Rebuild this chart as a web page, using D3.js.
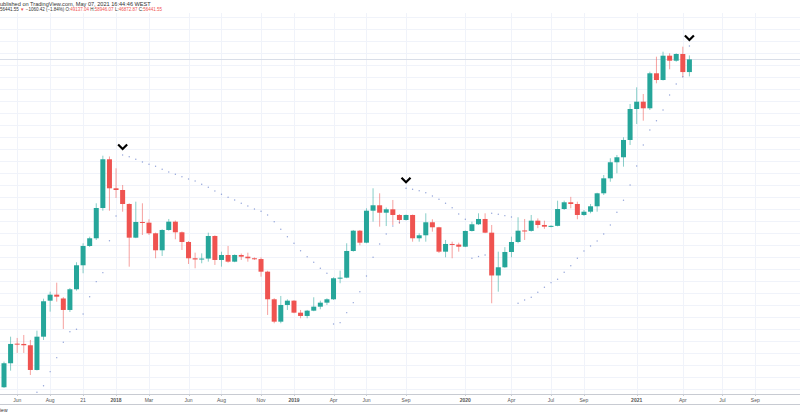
<!DOCTYPE html>
<html><head><meta charset="utf-8">
<script src="https://cdn.jsdelivr.net/npm/d3@7"></script>
<style>html,body{margin:0;padding:0;background:#fff;overflow:hidden}</style>
</head><body><svg id="c" width="800" height="417"></svg>
<script>
const opens  = [1568,2038,2525,2517,2481,1894,2725,4039,4313,4137,3649,4575,5947,7343,7988,11120,18944,13794,13540,11620,8041,9546,9473,8436,7006,8746,9577,8529,7671,6420,6336,6400,8191,6302,6655,6186,6655,6533,6420,6365,5545,4101,3211,3854,4039,3543,3418,3621,3783,3952,4101,5160,5194,6953,8679,7613,10797,11457,10564,10964,10305,9757,10305,7988,8254,9515,9008,6900,7506,7455,7287,8651,9309,9864,8492,5320,5818,6877,7671,8700,8660,9683,9238,9067,9150,11000,11839,11620,10305,10680,11333,13060,15383,18333,19363,23390,32817,35543,33069,48480,45050,58763,55633,59864,49137];
const highs  = [2074,2725,2687,2776,2629,2910,4128,4457,4918,4200,4640,6146,7563,8129,11710,19700,19530,17166,14300,11710,11917,11710,9832,8500,8813,9864,9700,8600,7750,6825,6776,8492,8250,6900,7343,6700,6760,6825,6480,6480,5600,4150,4252,4101,4060,3649,3649,4192,4039,4145,5217,5606,7563,8746,8746,11084,13794,13060,11180,12140,10400,10350,10350,8436,10495,9832,9050,7841,7697,7613,8700,9577,10495,10495,9238,6900,7250,8129,10049,9864,10305,9925,9683,9200,12047,12047,12560,11917,10880,11620,13140,15950,19153,19850,24090,34660,41600,38660,49335,58120,61389,60324,60324,64836,58946];
const lows   = [1556,1880,2281,2281,1793,1884,2629,3582,3995,2964,3570,4505,5449,7263,7841,10797,10797,12407,10680,5856,8000,8281,8281,6420,6584,8680,7901,7029,6032,5755,6079,6186,5967,5856,6119,6150,6302,6186,6302,5251,3455,3155,3155,3649,3520,3332,3332,3600,3677,3854,4070,4886,5160,6900,7399,7563,9577,9067,9130,9238,9340,9700,7697,7697,7697,8585,6802,6491,6420,6900,7250,8600,9238,8450,3926,4456,5780,6491,7563,7841,8585,8920,8860,9008,9100,10880,11084,9832,10200,10495,10680,12820,14822,16253,17469,22148,27855,28878,32460,43454,44800,50646,55000,46400,46872];
const closes = [2038,2517,2503,2481,1894,2725,4013,4313,4219,3649,4575,5947,7343,7988,11120,18944,13794,13540,11620,8041,9546,9473,8436,7006,8746,9577,8529,7671,6420,6336,6400,8191,6302,6655,6186,6655,6533,6420,6365,5545,4101,3211,3854,4039,3543,3418,3621,3783,3952,4101,5160,5194,6953,8679,7613,10797,11457,10564,10964,10305,9757,10305,7988,8254,9515,9008,6900,7506,7455,7287,8651,9309,9864,8492,5320,5818,6877,7671,8679,8660,9683,9238,9067,9150,11000,11839,11620,10305,10680,11333,13060,15383,18333,19363,23390,32817,35543,33069,48480,45050,58763,55633,59864,49137,56441];
const sar = [null,null,null,null,null,1484,1595,1859,2167,2564,2878,2955,3493,4219,4972,5485,7781,10193,19851,19486,18944,18394,17937,17550,16980,16486,16076,15660,15266,14936,14407,13942,13393,12918,12502,12140,11710,11370,11000,10727,10305,9577,8813,8129,7563,6975,6533,6146,5755,5449,3131,3176,3543,3952,4456,5291,6491,7506,8372,9138,9500,13794,13644,13437,13146,12681,12233,11710,11157,10418,9832,6420,6550,6655,10495,10380,10227,10082,3926,4070,4192,4427,4677,4918,5104,5509,5921,6420,6953,7343,7756,8372,9238,10610,12100,14297,17603,22148,26090,28878,32460,38242,43123,46704,65335];
const signalIdx = [18, 61, 104];
const tickLabels = ["Jun","Aug","21","2018","Mar","Jun","Aug","Nov","2019","Apr","Jun","Sep","2020","Apr","Jul","Sep","2021","Apr","Jul","Sep"];
const tickIdx    = [2,7,12,17,22,28,33,39,44,50,55,61,70,77,83,88,96,103,109,114];

const UP = "#26a69a", DOWN = "#ef5350";
const svg = d3.select("#c");
const x = d3.scaleLinear().domain([0, 104]).range([4, 689.4]);
const y = d3.scaleLog().domain([1000, 100000]).range([428.4, 7.05]);
const plotTop = 13, plotBottom = 394;

// horizontal grid (log-spaced ticks)
const gridTicks = d3.range(0, 32).map(i => 1534 * Math.pow(1.1401, i)).filter(v => y(v) > plotTop && y(v) < plotBottom);
svg.append("g").selectAll("line").data(gridTicks).join("line")
  .attr("x1", 0).attr("x2", 800)
  .attr("y1", d => Math.round(y(d)) + 0.5).attr("y2", d => Math.round(y(d)) + 0.5)
  .attr("stroke", "#f0f3fa").attr("stroke-width", 1);
// vertical grid
svg.append("g").selectAll("line").data(tickIdx).join("line")
  .attr("x1", d => Math.round(x(d)) + 0.5).attr("x2", d => Math.round(x(d)) + 0.5)
  .attr("y1", plotTop).attr("y2", plotBottom)
  .attr("stroke", "#f0f3fa").attr("stroke-width", 1);

// last price line
svg.append("line").attr("x1", 0).attr("x2", 800)
  .attr("y1", Math.round(y(closes[closes.length-1])) + 0.5).attr("y2", Math.round(y(closes[closes.length-1])) + 0.5)
  .attr("stroke", "#d9dee8").attr("stroke-width", 1);

const idx = d3.range(opens.length);
const g = svg.append("g");
g.selectAll("line.w").data(idx).join("line").attr("class", "w")
  .attr("x1", i => x(i)).attr("x2", i => x(i))
  .attr("y1", i => y(highs[i])).attr("y2", i => y(lows[i]))
  .attr("stroke", i => closes[i] >= opens[i] ? UP : DOWN).attr("stroke-opacity", 0.55).attr("stroke-width", 1);
g.selectAll("rect").data(idx).join("rect")
  .attr("x", i => x(i) - 2.5).attr("width", 5)
  .attr("y", i => y(Math.max(opens[i], closes[i])))
  .attr("height", i => Math.max(1, y(Math.min(opens[i], closes[i])) - y(Math.max(opens[i], closes[i]))))
  .attr("fill", i => closes[i] >= opens[i] ? UP : DOWN);

// parabolic SAR dots
svg.append("g").selectAll("circle").data(idx.filter(i => sar[i] != null)).join("circle")
  .attr("cx", i => x(i)).attr("cy", i => y(sar[i])).attr("r", 0.7)
  .attr("fill", "#6f86cc").attr("fill-opacity", 0.75);

// signal chevrons
svg.append("g").selectAll("path").data(signalIdx).join("path")
  .attr("transform", i => `translate(${x(i)},${y(sar[i]) - 8})`)
  .attr("d", "M-4.5,-2.5 L0,2 L4.5,-2.5")
  .attr("fill", "none").attr("stroke", "#000").attr("stroke-width", 2.2);

// time axis
svg.append("line").attr("x1", 0).attr("x2", 800).attr("y1", 394.5).attr("y2", 394.5).attr("stroke", "#c8cbd2");
svg.append("line").attr("x1", 0).attr("x2", 800).attr("y1", 404.5).attr("y2", 404.5).attr("stroke", "#c8cbd2");
svg.append("g").selectAll("line").data(tickIdx).join("line")
  .attr("x1", d => Math.round(x(d)) + 0.5).attr("x2", d => Math.round(x(d)) + 0.5)
  .attr("y1", 394).attr("y2", 396).attr("stroke", "#c8cbd2");
svg.append("g").selectAll("text").data(tickIdx).join("text")
  .attr("x", d => x(d)).attr("y", 401.5).attr("text-anchor", "middle")
  .attr("font-family", "Liberation Sans, Arial, sans-serif").attr("font-size", 5)
  .attr("font-weight", (d, i) => /^\d{4}$/.test(tickLabels[i]) ? "bold" : "normal")
  .attr("fill", "#555").text((d, i) => tickLabels[i]);

// header
const hf = "Liberation Sans, Arial, sans-serif";
svg.append("text").attr("x", 0).attr("y", 5.5).attr("font-family", hf).attr("font-size", 5.6).attr("fill", "#333")
  .text("ublished on TradingView.com, May 07, 2021 16:44:46 WEST");
const t2 = svg.append("text").attr("x", 0).attr("y", 11.3).attr("font-family", hf).attr("font-size", 4.5).attr("fill", "#333");
const parts = [["56441.55 ", "#333"], ["▼", DOWN], [" −1060.42 (−1.84%) ", "#333"], ["O:", "#333"], ["49137.04", DOWN], [" H:", "#333"], ["58946.07", DOWN], [" L:", "#333"], ["46872.87", DOWN], [" C:", "#333"], ["56441.55", DOWN]];
parts.forEach(p => t2.append("tspan").attr("fill", p[1]).text(p[0]));
svg.append("text").attr("x", 0).attr("y", 412).attr("font-family", hf).attr("font-size", 5).attr("fill", "#333").text("iew");
</script></body></html>
